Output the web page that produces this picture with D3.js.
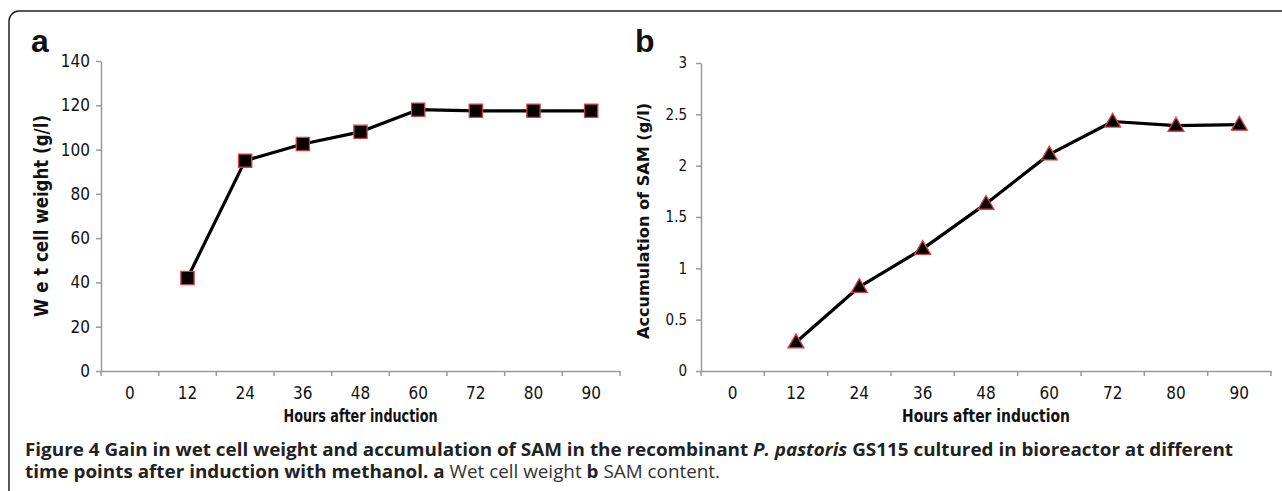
<!DOCTYPE html>
<html lang="en">
<head>
    <meta charset="UTF-8">
    <title>Figure 4 - wet cell weight and SAM</title>
    <script src="https://cdnjs.cloudflare.com/ajax/libs/d3/7.8.5/d3.min.js"></script>
    <style>
        html, body { margin: 0; padding: 0; background: #fff; overflow: hidden; }
        svg { display: block; }
        .tick text { font-family: 'Liberation Sans Narrow', 'DejaVu Sans Condensed', 'Open Sans', sans-serif; fill: #111; }
        .axis path, .axis line { stroke: #9a9a9a; stroke-width: 1.5; }
        .bound { stroke: #9a9a9a; stroke-width: 1.5; }
        .ttl { font-family: 'Liberation Sans Narrow', 'DejaVu Sans Condensed', 'Open Sans', sans-serif; font-weight: bold; fill: #111; }
        .panel { font-family: 'Liberation Sans', Arial, sans-serif; font-weight: bold; font-size: 32px; fill: #111; }
        .cap { font-family: 'Open Sans', 'Noto Sans', sans-serif; font-size: 17.5px; fill: #222; }
    </style>
</head>
<body>
<svg id="fig" width="1282" height="491"></svg>
<script>
    // data
    var hours = ['0', '12', '24', '36', '48', '60', '72', '80', '90'];
    var sampleHours = ['12', '24', '36', '48', '60', '72', '80', '90'];
    var wetWeight = [42, 95, 102.5, 108, 118, 117.5, 117.5, 117.5];
    var samContent = [0.28, 0.82, 1.19, 1.63, 2.11, 2.43, 2.39, 2.40];
    var wetTicks = [0, 20, 40, 60, 80, 100, 120, 140];
    var samTicks = [0, 0.5, 1, 1.5, 2, 2.5, 3];

    var svg = d3.select('#fig');

    // outer frame (runs off the right and bottom of the picture)
    svg.append('rect')
        .attr('x', 9).attr('y', 11)
        .attr('width', 1320).attr('height', 600)
        .attr('rx', 10).attr('ry', 10)
        .attr('fill', 'none')
        .attr('stroke', '#222').attr('stroke-width', 1.5);

    function drawPanel(opt) {
        var g = svg.append('g');
        var x = d3.scaleBand().domain(hours).range([opt.x0, opt.x1]);
        var y = d3.scaleLinear().domain([0, opt.ymax]).range([opt.yBottom, opt.yTop]);

        // y axis
        var ya = g.append('g').attr('class', 'axis')
            .attr('transform', 'translate(' + opt.x0 + ',0)')
            .call(d3.axisLeft(y).tickValues(opt.ticks).tickSize(5).tickSizeOuter(0).tickPadding(opt.yPad)
                .tickFormat(d3.format('')));
        ya.selectAll('.tick text').style('font-size', opt.yFont + 'px');

        // x axis: labels centered in bands, tick marks on the band boundaries
        var xa = g.append('g').attr('class', 'axis')
            .attr('transform', 'translate(0,' + opt.yBottom + ')')
            .call(d3.axisBottom(x).tickSize(0).tickSizeOuter(0).tickPadding(16));
        xa.selectAll('.tick text').style('font-size', '17px');
        var bounds = hours.map(function(d) { return x(d); }).concat([opt.x1]);
        g.selectAll('line.bound').data(bounds).enter().append('line')
            .attr('class', 'bound')
            .attr('x1', function(d) { return d; }).attr('x2', function(d) { return d; })
            .attr('y1', opt.yBottom).attr('y2', opt.yBottom + 5);

        // axis titles
        g.append('text').attr('class', 'ttl')
            .attr('x', (opt.x0 + opt.x1) / 2).attr('y', opt.yBottom + 51)
            .attr('text-anchor', 'middle')
            .attr('textLength', opt.xTitleLen).attr('lengthAdjust', 'spacingAndGlyphs')
            .style('font-size', '17px')
            .text('Hours after induction');
        g.append('text').attr('class', 'ttl')
            .attr('transform', 'translate(' + opt.yTitleX + ',' + opt.yTitleY + ') rotate(-90)')
            .attr('text-anchor', 'middle')
            .attr('textLength', opt.yTitleLen).attr('lengthAdjust', 'spacingAndGlyphs')
            .style('font-size', opt.yTitleFont + 'px')
            .text(opt.yTitle);

        // series
        var pts = sampleHours.map(function(h, i) {
            return [x(h) + x.bandwidth() / 2, y(opt.values[i])];
        });
        g.append('path')
            .attr('d', d3.line()(pts))
            .attr('fill', 'none')
            .attr('stroke', '#000').attr('stroke-width', 3.2)
            .attr('stroke-linejoin', 'round');
        g.selectAll('path.mk').data(pts).enter().append('path')
            .attr('class', 'mk')
            .attr('transform', function(d) { return 'translate(' + d[0] + ',' + (d[1] + opt.mkShift) + ')'; })
            .attr('d', d3.symbol().type(opt.symbol).size(opt.symSize))
            .attr('fill', '#000')
            .attr('stroke', '#d84040').attr('stroke-width', 1.3);

        svg.append('text').attr('class', 'panel')
            .attr('x', opt.letterX).attr('y', 52).text(opt.letter);
    }

    drawPanel({
        letter: 'a', letterX: 31,
        x0: 101, x1: 620, yTop: 61, yBottom: 371, ymax: 140,
        ticks: wetTicks, yPad: 6, yFont: 17,
        values: wetWeight,
        symbol: d3.symbolSquare, symSize: 175, mkShift: 0,
        xTitleLen: 154,
        yTitle: 'W e t  cell weight  (g/l)', yTitleX: 48, yTitleY: 216, yTitleLen: 202, yTitleFont: 20
    });

    drawPanel({
        letter: 'b', letterX: 635,
        x0: 701, x1: 1271, yTop: 63, yBottom: 371, ymax: 3,
        ticks: samTicks, yPad: 9, yFont: 15,
        values: samContent,
        symbol: d3.symbolTriangle, symSize: 110, mkShift: 1,
        xTitleLen: 168,
        yTitle: 'Accumulation of SAM  (g/l)', yTitleX: 649, yTitleY: 221, yTitleLen: 236, yTitleFont: 16
    });

    // caption
    var l1 = svg.append('text').attr('class', 'cap')
        .attr('x', 25).attr('y', 456)
        .attr('textLength', 1208).attr('lengthAdjust', 'spacingAndGlyphs')
        .style('font-weight', 'bold');
    l1.append('tspan').text('Figure 4 Gain in wet cell weight and accumulation of SAM in the recombinant ');
    l1.append('tspan').style('font-style', 'italic').text('P. pastoris');
    l1.append('tspan').text(' GS115 cultured in bioreactor at different');

    var l2 = svg.append('text').attr('class', 'cap')
        .attr('x', 25).attr('y', 478)
        .attr('textLength', 695).attr('lengthAdjust', 'spacingAndGlyphs');
    l2.append('tspan').style('font-weight', 'bold').text('time points after induction with methanol. a');
    l2.append('tspan').style('fill', '#333').text(' Wet cell weight ');
    l2.append('tspan').style('font-weight', 'bold').text('b');
    l2.append('tspan').style('fill', '#333').text(' SAM content.');
</script>
</body>
</html>
